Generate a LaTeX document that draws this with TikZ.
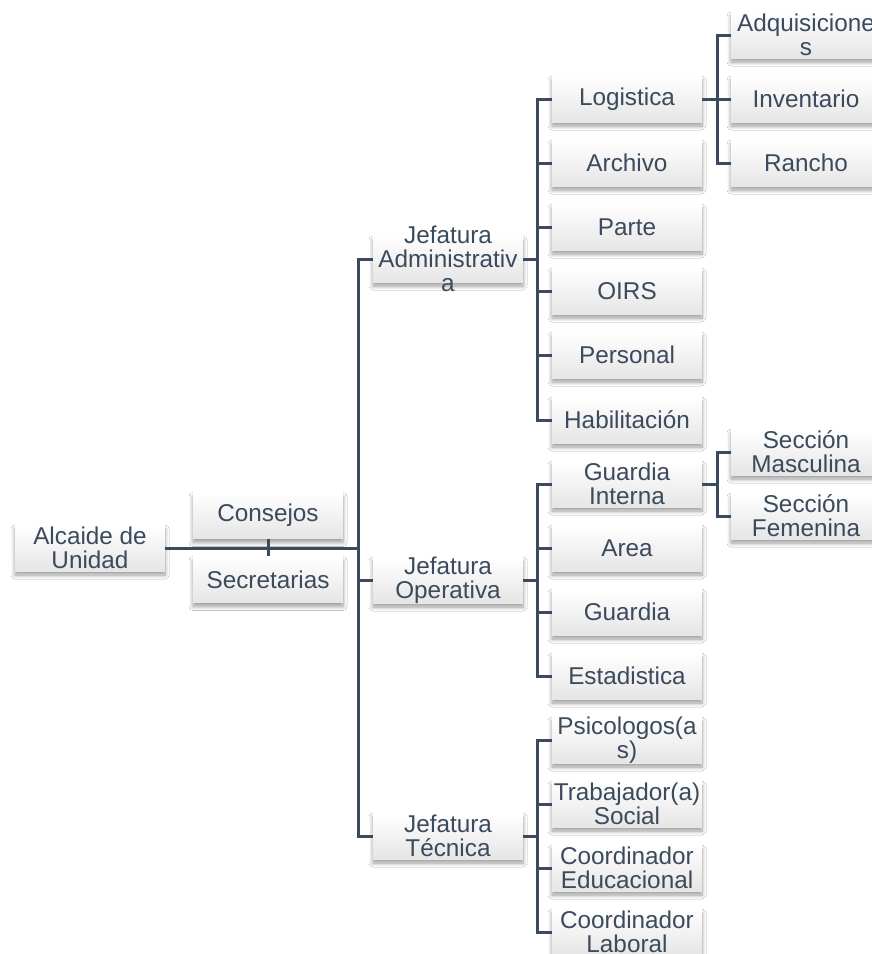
\documentclass[tikz,border=0pt]{standalone}
\usepackage{fontspec}
\setmainfont{Liberation Sans}
\usetikzlibrary{shadows.blur}
\definecolor{ink}{RGB}{59,74,92}
\tikzset{
 orgbox/.style={rectangle, minimum width=150pt, minimum height=46pt, inner sep=0pt,
   top color=white, bottom color=black!10, draw=none,
   blur shadow={shadow xshift=0pt, shadow yshift=-4pt, shadow blur radius=4pt, shadow blur steps=8, shadow opacity=40}},
 orglbl/.style={inner sep=0pt, align=center, text=ink, font=\fontsize{24.3}{24}\selectfont},
 conn/.style={draw=ink, line width=3pt}
}
\newcommand\orgnode[3]{\node[orgbox] (#1) at (#2) {}; \node[orglbl] (#1t) at (#1.center) {#3};}
\begin{document}
\begin{tikzpicture}[x=1pt,y=-1pt]
\fill[white] (0,0) rectangle (872,954);
\useasboundingbox (0,0) rectangle (872,954);
% level 0/1
\orgnode{alc}{90,548}{Alcaide de\\Unidad}
\orgnode{cons}{268,515.5}{Consejos}
\orgnode{secr}{268,579.5}{Secretarias}
\orgnode{adm}{448,259}{Jefatura\\Administrativ\\a}
\orgnode{op}{448,580}{Jefatura\\Operativa}
\orgnode{tec}{448,836}{Jefatura\\Técnica}
% adm children
\orgnode{log}{627,99}{Logistica}
\orgnode{arc}{627,163}{Archivo}
\orgnode{par}{627,227}{Parte}
\orgnode{oirs}{627,291}{OIRS}
\orgnode{per}{627,355}{Personal}
\orgnode{hab}{627,420}{Habilitación}
% op children
\orgnode{gi}{627,484}{Guardia\\Interna}
\orgnode{area}{627,548}{Area}
\orgnode{gua}{627,612}{Guardia}
\orgnode{est}{627,676}{Estadistica}
% tec children
\orgnode{psi}{627,740}{Psicologos(a\\s)}
\orgnode{tra}{627,804}{Trabajador(a)\\Social}
\orgnode{ced}{627,868}{Coordinador\\Educacional}
\orgnode{cla}{627,932}{Coordinador\\Laboral}
% level 3
\orgnode{adq}{806,35}{Adquisicione\\s}
\orgnode{inv}{806,99}{Inventario}
\orgnode{ran}{806,163}{Rancho}
\orgnode{sm}{806,452}{Sección\\Masculina}
\orgnode{sf}{806,516}{Sección\\Femenina}
% buses
\coordinate (b1) at (358,548);
\coordinate (b2a) at (537,259);
\coordinate (b2b) at (537,580);
\coordinate (b2c) at (537,836);
\coordinate (b3a) at (717,99);
\coordinate (b3b) at (717,484);
% connectors
\draw[conn] (alc.east) -- (b1);
\draw[conn] (cons.south) -- (secr.north);
\draw[conn] (adm.west) -| (b1);
\draw[conn] (op.west) -| (b1);
\draw[conn] (tec.west) -| (b1);
\draw[conn] (adm.east) -- (b2a);
\foreach \n in {log,arc,par,oirs,per,hab} \draw[conn] (\n.west) -| (b2a);
\draw[conn] (op.east) -- (b2b);
\foreach \n in {gi,area,gua,est} \draw[conn] (\n.west) -| (b2b);
\draw[conn] (tec.east) -- (b2c);
\foreach \n in {psi,tra,ced,cla} \draw[conn] (\n.west) -| (b2c);
\draw[conn] (log.east) -- (b3a);
\foreach \n in {adq,inv,ran} \draw[conn] (\n.west) -| (b3a);
\draw[conn] (gi.east) -- (b3b);
\foreach \n in {sm,sf} \draw[conn] (\n.west) -| (b3b);
\end{tikzpicture}
\end{document}
